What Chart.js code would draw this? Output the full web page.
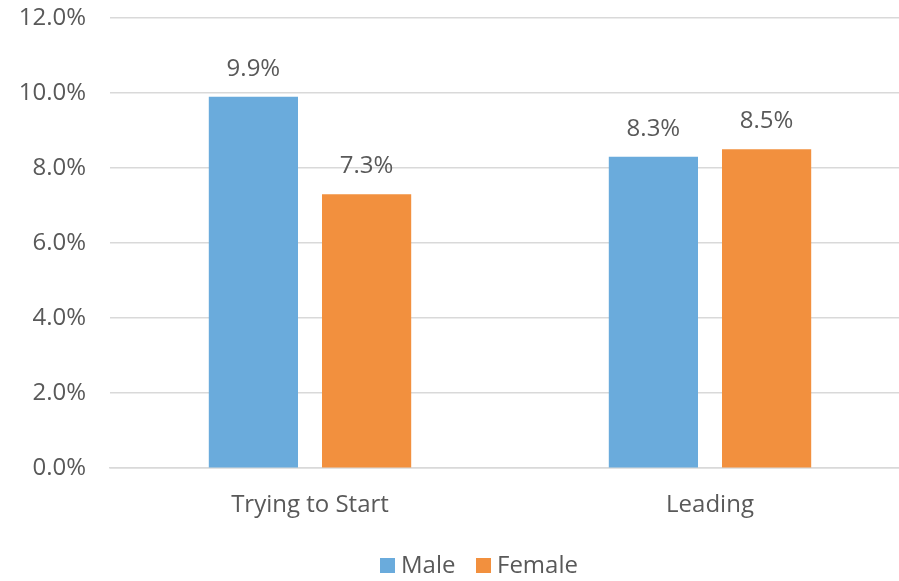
<!DOCTYPE html>
<html>
<head>
<meta charset="utf-8">
<script src="https://cdn.jsdelivr.net/npm/chart.js@4"></script>
<style>
  html, body { margin: 0; padding: 0; background: #fff; overflow: hidden; }
  #wrap { width: 910px; height: 581px; }
</style>
</head>
<body>
<div id="wrap"><canvas id="chartCanvas"></canvas></div>
<script>
// values (percent)
const categories = ['Trying to Start', 'Leading'];
const maleValues = [9.9, 8.3];
const femaleValues = [7.3, 8.5];
const seriesNames = ['Male', 'Female'];
const seriesColors = ['#6AABDC', '#F2903E'];

const textColor = '#595959';
const fontFamily = '"Open Sans", "DejaVu Sans", sans-serif';
const fontSize = 24;

// draws the value labels above each bar
const barLabels = {
    id: 'barLabels',
    afterDatasetsDraw(chart) {
        const ctx = chart.ctx;
        ctx.save();
        ctx.fillStyle = textColor;
        ctx.font = fontSize + 'px ' + fontFamily;
        ctx.textAlign = 'center';
        ctx.textBaseline = 'middle';
        chart.data.datasets.forEach((ds, i) => {
            chart.getDatasetMeta(i).data.forEach((bar, j) => {
                ctx.fillText(ds.data[j].toFixed(1) + '%', bar.x, bar.y - 28);
            });
        });
        ctx.restore();
    }
};

// legend drawn by hand so it sits where the original puts it
const bottomLegend = {
    id: 'bottomLegend',
    afterDraw(chart) {
        const ctx = chart.ctx;
        const y = 566;
        const boxX = [380, 476];
        ctx.save();
        ctx.font = fontSize + 'px ' + fontFamily;
        ctx.textBaseline = 'middle';
        chart.data.datasets.forEach((ds, i) => {
            ctx.fillStyle = ds.backgroundColor;
            ctx.fillRect(boxX[i], y - 8, 15, 15);
            ctx.fillStyle = textColor;
            ctx.fillText(ds.label, boxX[i] + 21, y);
        });
        ctx.restore();
    }
};

const ctx = document.getElementById('chartCanvas').getContext('2d');
new Chart(ctx, {
    type: 'bar',
    data: {
        labels: categories,
        datasets: [
            { label: seriesNames[0], data: maleValues, backgroundColor: seriesColors[0] },
            { label: seriesNames[1], data: femaleValues, backgroundColor: seriesColors[1] }
        ]
    },
    options: {
        responsive: true,
        maintainAspectRatio: false,
        animation: false,
        categoryPercentage: 0.566,
        barPercentage: 0.788,
        layout: { padding: { top: 18, left: 0, right: 0, bottom: 38 } },
        plugins: {
            tooltip: { enabled: false },
            legend: { display: false }
        },
        scales: {
            y: {
                min: 0,
                max: 12,
                ticks: {
                    stepSize: 2,
                    color: textColor,
                    font: { family: fontFamily, size: fontSize },
                    padding: 24,
                    callback: v => v.toFixed(1) + '%'
                },
                grid: { color: '#D9D9D9', lineWidth: 1.5, drawTicks: false },
                border: { display: false },
                afterFit: s => { s.width = 110; s.paddingTop = 0; s.paddingBottom = 0; }
            },
            x: {
                ticks: {
                    color: textColor,
                    font: { family: fontFamily, size: fontSize },
                    padding: 23
                },
                grid: { display: false, drawTicks: false },
                border: { color: '#D9D9D9', width: 1.5 }
            }
        }
    },
    plugins: [barLabels, bottomLegend]
});
</script>
</body>
</html>
